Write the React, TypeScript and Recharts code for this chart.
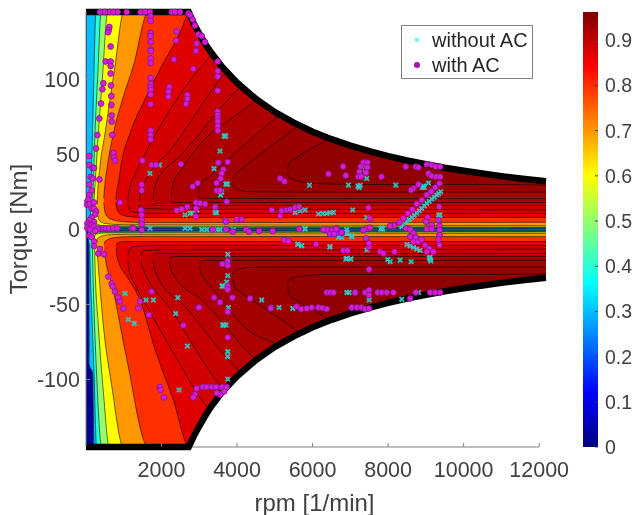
import { Area, Bar, BarChart, ComposedChart, Legend, Line, ReferenceLine, Scatter, XAxis, YAxis } from "recharts";

// rpm, lower torque, upper torque of each contour lobe
const top30 = [[20, 1, 145], [12180, 0.6, 145]];
const top40 = [[115, 6, 9], [123, 4, 20], [150, 2.5, 42], [194, 1.6, 86], [265, 1.3, 145], [12180, 0.9, 145]];
const top50 = [[160, 8, 12], [176, 5, 20], [238, 3, 64], [320, 2.2, 107], [397, 1.9, 145], [12180, 1.3, 145]];
const top60 = [[195, 10, 14], [212, 6, 20], [327, 3.2, 64], [440, 2.6, 103], [575, 2.4, 145], [12180, 1.7, 145]];
const top70 = [[295, 14, 17], [300, 11, 20], [371, 5.5, 42], [503, 4, 64], [768, 3.4, 109], [1000, 3.2, 145], [12180, 2.6, 145]];
const top80 = [[470, 18, 21], [500, 12, 30], [565, 8.5, 42], [724, 6.3, 64], [971, 5.2, 87], [1254, 4.8, 109], [1650, 4.6, 145], [12180, 4.8, 145]];
const top87 = [[790, 18, 20], [805, 15, 24], [850, 12, 30], [950, 9.8, 46], [1165, 8.5, 64], [1563, 8, 87], [2004, 8, 109], [2490, 8, 131], [2750, 8, 145], [12180, 8, 145]];
const top88 = [[1110, 17, 19], [1125, 14.5, 24], [1170, 12.5, 29], [1300, 11.3, 37], [1474, 11, 46], [2225, 10.7, 80], [3300, 10.7, 116], [3800, 10.7, 130], [4700, 10.7, 145], [12180, 10.7, 145]];
const top89 = [[1420, 16.5, 19], [1435, 15, 23], [1500, 14.2, 28], [1700, 13.7, 38], [2200, 13.5, 52], [3700, 13.5, 105], [4500, 13.5, 125], [5800, 13.5, 145], [12180, 13, 145]];
const top90 = [[1775, 17.5, 20], [1790, 16.6, 24], [1860, 16, 31], [2050, 16, 39], [2400, 16, 47], [4035, 16, 94], [5500, 16, 125], [6800, 16, 145], [12180, 16, 145]];
const top91 = [[2260, 19.5, 22], [2275, 18.6, 27], [2340, 18, 33], [2500, 18, 39], [2755, 18, 48.6], [4433, 18, 85], [6000, 18, 120], [7500, 18, 145], [12180, 18, 145]];
const top92 = [[2970, 22.5, 24.5], [2990, 21.5, 28], [3060, 20.8, 31], [3250, 20.6, 35], [3638, 20.6, 44], [5007, 20.6, 74], [7000, 20.6, 110], [9000, 20.6, 145], [12180, 20.6, 145]];
const top93 = [[3890, 31.5, 34], [3905, 29.5, 36], [3960, 27.5, 37.5], [4100, 26, 40], [4400, 25.2, 46], [5536, 25, 67.5], [8000, 25, 110], [10000, 25, 145], [12180, 25, 145]];
const top94 = [[5340, 38, 40], [5355, 36, 42], [5400, 34.5, 45], [5550, 32.8, 47.5], [5757, 31.5, 51], [6287, 30.5, 58.6], [7500, 30, 90], [9000, 30, 125], [10000, 30, 145], [12180, 29.6, 145]];

const bot30 = [[60, -6, -2], [75, -19, -1.2], [85, -90, -1], [176, -96, -1], [212, -145, -1], [12180, -145, -0.6]];
const bot40 = [[100, -9, -3], [106, -19, -2], [150, -52, -1.5], [212, -95, -1.3], [282, -145, -1.2], [12180, -145, -0.9]];
const bot50 = [[170, -10, -4], [176, -19, -3], [212, -52, -2.2], [282, -97, -1.9], [415, -145, -1.8], [12180, -145, -1.3]];
const bot60 = [[230, -12, -5], [238, -24, -3.5], [327, -64, -2.7], [459, -108, -2.4], [618, -145, -2.3], [12180, -145, -1.7]];
const bot70 = [[290, -14, -9], [300, -17, -6], [459, -64, -4], [680, -104, -3.4], [990, -145, -3.2], [12180, -145, -2.6]];
const bot80 = [[480, -14, -10], [503, -18, -8], [724, -41, -5.5], [1077, -86, -4.8], [1650, -145, -4.6], [12180, -145, -4.8]];
const bot87 = [[800, -12, -10.5], [815, -17, -9.5], [870, -22, -8.5], [1100, -32, -8], [1430, -47, -8], [1828, -80, -8], [2305, -113, -8], [2737, -145, -8], [12180, -145, -8]];
const bot88 = [[1110, -21, -17.5], [1125, -25, -15], [1170, -30, -12.5], [1300, -37, -11.3], [1784, -59, -10.7], [2490, -90, -10.7], [3152, -117, -10.7], [3800, -133, -10.7], [4600, -145, -10.7], [12180, -145, -10.7]];
const bot89 = [[1465, -20, -17], [1480, -24, -15], [1560, -29, -14], [2225, -52.6, -13.5], [3461, -101, -13.5], [4200, -122, -13.5], [5500, -145, -13.5], [12180, -145, -13]];
const bot90 = [[1775, -20, -17.5], [1790, -24, -16.5], [1870, -30, -15.8], [2666, -52.6, -16], [3814, -88, -16], [5200, -120, -16], [6500, -145, -16], [12180, -145, -16]];
const bot91 = [[2215, -21.5, -19.5], [2232, -25, -18.6], [2310, -30, -18], [3108, -48, -18], [4256, -81, -18], [6000, -118, -18], [7500, -145, -18], [12180, -145, -18]];
const bot92 = [[3010, -25, -22.5], [3030, -28, -21.5], [3110, -32, -20.7], [3400, -41, -20.6], [4344, -68, -20.6], [5000, -76, -20.6], [7000, -110, -20.6], [9000, -145, -20.6], [12180, -145, -20.6]];
const bot93 = [[3890, -33, -30.5], [3905, -36, -29], [3960, -39.5, -27.5], [4100, -42, -26], [4400, -47, -25.2], [5500, -66, -25], [8000, -110, -25], [10000, -145, -25], [12180, -145, -25]];
const bot94 = [[5340, -38, -36], [5355, -41, -34.5], [5400, -44, -33], [5550, -47, -31.8], [5757, -50, -31], [6287, -58, -30], [7500, -88, -30], [9000, -120, -30], [10000, -145, -30], [12180, -145, -29.6]];

const baseBand = [[0, -145, 145], [12180, -145, 145]];
const centerBand = [[100, -0.7, 0.7], [12180, -0.7, 0.7]];
const bandOrder = [
  ["0.3", top30, bot30], ["0.4", top40, bot40], ["0.5", top50, bot50], ["0.6", top60, bot60],
  ["0.7", top70, bot70], ["0.8", top80, bot80], ["0.87", top87, bot87], ["0.88", top88, bot88],
  ["0.89", top89, bot89], ["0.9", top90, bot90], ["0.91", top91, bot91], ["0.92", top92, bot92],
  ["0.93", top93, bot93], ["0.94", top94, bot94],
];
const bandColors = {
  "0.3": "#00bfff", "0.4": "#29ffd6", "0.5": "#94ff6b", "0.6": "#ffff00", "0.7": "#ff9700", "0.8": "#ff3000",
  "0.87": "#e00000", "0.88": "#d20000", "0.89": "#c60000", "0.9": "#ba0000", "0.91": "#ae0000",
  "0.92": "#a40000", "0.93": "#9a0000", "0.94": "#900000",
};

// torque limit of the machine
const limitRpm = [0, 2720, 2850, 3000, 3150, 3300, 3600, 4000, 4500, 5000, 5500, 6000, 6500, 7000, 7500, 8000, 8500, 9000, 9500, 10000, 10500, 11000, 11500, 12180];
const limitUpper = [145, 145, 137.5, 130.5, 124, 118.5, 108.5, 97.8, 87, 78.3, 71.2, 65.2, 60.2, 55.9, 52.2, 48.9, 46, 43.5, 41.2, 39.2, 37.3, 35.6, 34, 32.2];
const limitLower = [-145, -145, -138, -131, -124.5, -118.5, -108.5, -97.8, -87, -78.3, -71.2, -65.2, -60.2, -55.9, -52.2, -48.9, -46, -43.5, -41.2, -39.2, -37.3, -35.6, -34, -32.2];
const maskEndRpm = 12260;

const withAc = [
  [371, 145], [503, 145], [636, 145], [724, 145], [839, 145], [1077, 145], [1448, 145], [1563, 145], [1695, 145], [2269, 145], [2357, 145], [2490, 145],
  [2711, 144], [2755, 143], [2825, 140], [2887, 136], [2976, 130], [3064, 129], [3152, 125], [2931, 124], [2914, 119], [3488, 112],
  [1712, 142], [1712, 139], [1712, 131], [1712, 129], [1712, 125], [1712, 120], [1712, 119], [1712, 114], [1712, 111], [1712, 101], [1712, 97], [1712, 95], [1712, 93], [1712, 90], [1712, 83.5], [1712, 66], [1712, 63], [1712, 60],
  [618, 135], [600, 133], [585, 131.5], [653, 122], [521, 112], [653, 112], [653, 109], [653, 104], [459, 97.5], [662, 96], [433, 93.5], [671, 89], [397, 84], [671, 83], [680, 76], [353, 74], [680, 72], [697, 63], [300, 63], [265, 54], [724, 51], [740, 48], [768, 46],
  [88, 49], [88, 43], [176, 41], [212, 41], [123, 35], [176, 34], [353, 33.4], [88, 30], [150, 26], [88, 23], [35, 18.6], [70, 20], [30, 16.4], [106, 17], [150, 14], [212, 18], [212, 14], [265, 12], [238, 10], [150, 8], [100, 6.3], [212, 5], [35, 4], [88, 3], [150, 3], [212, 2], [35, 1],
  [371, 0.8], [459, 0.8], [530, 0.8], [618, 0.8], [724, 0.8], [830, 0.8], [1210, 0.8], [1254, 0.8], [1474, 12.5], [1474, 6.3], [1474, 3.6], [1474, -0.4], [300, 0.5], [238, -1], [106, 0], [88, -4], [150, -5], [212, -8], [212, -11], [327, -16], [371, -13], [477, -16.5],
  [591, -31.4], [680, -36], [706, -38], [768, -41.4], [856, -45.4], [900, -48], [989, -52.6], [1386, -52.6], [1430, -48], [1739, -41.4], [1669, -57], [2578, -64], [1960, -105], [1978, -107], [2066, -112], [2976, -52], [3391, -45.4], [3550, -48.6], [3876, -45.4], [3753, -55], [3753, -72], [3753, -21], [3753, -24], [3611, -23], [3753, -37.7], [3753, -40],
  [2887, -110], [2843, -112], [2931, -106], [3090, -105], [3196, -105], [3329, -105], [3444, -105], [3594, -105], [3726, -105], [3550, -110], [3461, -109], [3655, -108],
  [901, 18], [1474, 30], [1474, 26], [1492, 46], [1739, 43], [1854, 43], [2516, 43.5], [1457, 13], [1474, 9.7], [2402, 12.6], [2534, 13.5], [2684, 15], [2914, 18], [3020, 17.5], [3152, 17], [2914, 14], [2914, 8.6], [2825, 28.6], [2958, 31], [3461, 31], [3461, 26], [3550, 26], [3638, 40], [3594, 37.4], [3567, 34], [3505, 44.6], [3753, 45], [3726, 18.6], [3435, 15], [3682, 6.3], [3991, 6.8], [4124, 6.8],
  [3488, 105.7], [3488, 102], [3488, 92.6], [3488, 78.6], [3488, 76.3], [3488, 74], [3488, 72], [3488, 69], [3488, 66], [2402, 132], [2384, 126], [2331, 113.4], [2843, 107], [2207, 95], [2181, 92], [2181, 88.6], [2684, 89.7], [2684, 87], [2649, 83.7],
  [5139, 34], [5254, 32], [6420, 37], [6808, 42], [6879, 36], [5139, 9], [4918, 13], [5183, 12.6], [5316, 13], [5404, 13.4], [5536, 14.6], [5642, 15.2], [3417, 15],
  [3355, 0], [3709, 0], [3885, -1.4], [4238, 0], [4318, -1.4], [4583, -1], [4945, -1], [5651, 0.3], [6331, -0.3], [6393, 0], [6508, -2.5], [6570, 0], [6640, 0.8], [6773, -2.5], [6623, -2.5], [3709, 5.2], [5245, -7], [5360, -7.7], [6093, -9.7],
  [4344, -46], [4901, -52], [5581, -51.4], [5695, -53], [5846, -52.6], [5978, -52], [6155, -52], [6260, -52.3], [6375, -53], [2993, -52], [6817, -14], [6923, -14], [6375, -42], [6464, -42], [6552, -42], [7126, -42], [7038, -52], [7170, -52],
  [7346, 44.7], [7452, 44.7], [7276, 41.9], [7452, 41.4], [7240, 38.5], [7417, 37.9], [7214, 35.2], [7284, 35.2], [7823, 35.2], [8468, 41.9], [8732, 41.9], [8803, 41.4], [9024, 43.4], [9156, 43], [9262, 41.9], [9377, 41.9], [9068, 37.4], [9156, 35.6], [9271, 35.2], [9377, 35.2],
  [8803, 30], [8671, 27.4], [8609, 26.3], [9360, 30.7], [9245, 28], [9139, 25.2], [9024, 23], [8891, 19.6], [8759, 17], [8644, 13.4], [8520, 10.8], [8406, 7.4], [8300, 4.7], [8159, 2.5], [8053, 2.3],
  [9350, 15.2], [9042, 8], [9006, 5.2], [9156, 3], [9333, 6.3], [9360, 2.5], [9360, -0.4], [9360, -3.7], [9333, -6.6], [9360, -10.4], [9024, 0.3], [9156, 0.3],
  [8476, 0.7], [8583, 0], [8671, -2.6], [8583, -4.8], [8732, -5.2], [8671, -8.1], [8803, -8.1], [8891, -6.6], [8980, -10.4], [9086, -12.6], [9201, -14.8], [9024, -14.8],
  [7479, 14.5], [7523, 7.4], [7434, 0.7], [7523, 1.2], [7346, -0.4], [7417, -5.9], [7497, -11.5], [7497, -9.2], [7788, -14.8], [7876, -16], [8167, -14.8], [7497, -26.6],
  [6287, 0], [6507, -0.4], [6622, 0.3], [6463, -3], [6569, -3], [6772, -2],
  [7126, -42], [7390, -42], [7497, -40.4], [7497, -43.7], [7726, -42], [7832, -42], [7964, -42], [8141, -42], [8732, -42], [9112, -42], [9245, -42], [9377, -42],
  [4891, -52.6], [7037, -52], [7285, -52], [7390, -53], [7497, -52.6], [8582, -46],
];

const withoutAc = [
  [5916, 29.6], [6949, 29.6], [8203, 29.6], [7200, 29], [7231, 28], [7260, 29.5], [8910, 28], [8935, 29], [8960, 28], [9068, 31], [7390, 37.9], [7434, 34], [7390, 41.9],
  [8362, 1.9], [8428, 3.5], [8494, 5.2], [8560, 6.6], [8627, 8], [8693, 9.5], [8759, 11], [8825, 12.5], [8891, 14], [8957, 15.7], [9024, 17.4], [9090, 18.8], [9156, 20.3], [9222, 21.6], [9289, 23], [9342, 24], [9395, 25.2],
  [8494, -10], [8582, -11], [8671, -12], [8759, -13], [8847, -14], [9090, -19], [9112, -20], [9135, -21], [9112, -18.5],
  [9333, 9.6], [9375, 9.6], [7434, 8], [7810, 0.3], [7832, 1], [7855, 0.3], [6905, 0], [5801, 0.3], [7037, -4.8], [6684, -5.2], [6772, -5.2], [6463, -11.5], [5607, -9.7], [5713, -10.8], [7434, -13.7],
  [6905, -19.2], [7011, -19.7], [7991, -20], [8053, -21.5], [8318, -20.4], [8609, -21.5], [4653, -47], [5112, -52], [5474, -52.6], [6905, -42], [6967, -42], [7497, -47], [8362, -46.6], [8803, -42],
  [7064, 13], [5801, 13], [5536, 11.4], [5669, 12.3], [6154, 10.3], [6269, 10.7], [6375, 10.7], [6463, 11.2], [6552, 11.4],
  [3660, 62.3], [3682, 62.3], [3704, 62.3], [3550, 52.3], [3391, 40.6], [3704, 30.3], [3726, 30.3], [3748, 30.3], [3594, 25], [3567, 23], [3461, 11.2], [2932, 13], [2799, 11],
  [3064, 0], [3197, 0], [3461, 0], [3550, 0], [3903, 0], [5801, 0.8], [6817, -2], [6905, -2], [7037, -4], [2622, 0.8], [2755, 0.8], [1695, 0.8],
  [3753, -16.6], [3753, -30.8], [3600, -37.7], [3620, -37.7], [3640, -37.7], [3726, -35], [3770, -52], [3620, -63.7], [3638, -63.7], [3660, -63.7], [3709, -63.7], [3753, -81.4], [3753, -84.8], [3753, -99.7],
  [5607, -10], [5713, -10.8], [6455, -11.7], [6879, -19.7], [7011, -19.7],
  [1033, -42.6], [1589, -47], [1783, -47], [2428, -45.4], [2375, -56], [1121, -60], [1280, -62.6], [2684, -77.7], [2463, -107], [3196, -105],
  [1695, 37.4], [1942, 43], [2622, 9.7], [2755, 10.8], [3417, 11.5], [2931, 13],
];

const xTicks = [2000, 4000, 6000, 8000, 10000, 12000];
const yTicks = [-100, -50, 0, 50, 100];
const colorbarTicks = [0, 0.1, 0.2, 0.3, 0.4, 0.5, 0.6, 0.7, 0.8, 0.9];
const colorbarMax = 0.9625;
const jetStops = [
  [0, "#000080"], [0.125, "#0000ff"], [0.375, "#00ffff"], [0.625, "#ffff00"], [0.875, "#ff0000"], [1, "#800000"],
];
const legendItems = ["without AC", "with AC"];

const bandRows = (rows: number[][]) => rows.map(([rpm, low, high]) => ({ rpm, range: [low, high] }));
const pointRows = (rows: number[][]) => rows.map(([rpm, t]) => ({ rpm, t }));
const limitLine = (values: number[]) => limitRpm.map((rpm, i) => ({ rpm, t: values[i] }));
// white cover outside the torque limit, runs a bit past the last rpm so no band edge shows
const maskRows = (values: number[], edge: number) => {
  const rows = limitRpm.slice(1).map((rpm, i) => {
    const t = values[i + 1];
    return { rpm, range: edge > 0 ? [t, edge] : [edge, t] };
  });
  return [...rows, { rpm: maskEndRpm, range: rows[rows.length - 1].range }];
};

const textColor = "#404040";

function WithAcDot({ cx, cy }: any) {
  return <circle cx={cx} cy={cy} r={2.9} fill="#d91ad9" stroke="#7a1a80" strokeWidth={0.8} />;
}

function WithoutAcCross({ cx, cy }: any) {
  const d = `M${cx - 2.2},${cy - 2.2}L${cx + 2.2},${cy + 2.2}M${cx - 2.2},${cy + 2.2}L${cx + 2.2},${cy - 2.2}`;
  return (
    <g fill="none">
      <path d={d} stroke="#22e6e6" strokeWidth={1.7} />
      <path d={d} stroke="#5a8a86" strokeWidth={0.7} />
    </g>
  );
}

function LegendBox() {
  return (
    <div
      style={{
        width: 132,
        height: 54,
        boxSizing: "border-box",
        border: "1px solid #808080",
        background: "#fff",
        fontFamily: "Liberation Sans",
        fontSize: 20,
        color: "#262626",
        position: "relative",
      }}
    >
      {legendItems.map((name, i) => (
        <div key={name} style={{ position: "absolute", left: 30, top: 2 + i * 25, lineHeight: "24px", whiteSpace: "nowrap" }}>
          {name}
        </div>
      ))}
      <svg width={30} height={52} style={{ position: "absolute", left: 0, top: 0 }}>
        <circle cx={15} cy={14} r={2.4} fill="#7ff5f5" />
        <circle cx={15} cy={39} r={2.8} fill="#a812b0" stroke="#8a1095" strokeWidth={0.6} />
      </svg>
    </div>
  );
}

export default function App() {
  return (
    <div style={{ position: "absolute", left: 0, top: 0, width: 635, height: 515, background: "#fff", filter: "blur(0.45px)" }}>
      <ComposedChart width={635} height={515} margin={{ top: 12, right: 86, bottom: 0, left: 0 }}>
        <XAxis
          dataKey="rpm"
          type="number"
          domain={[0, 12260]}
          ticks={xTicks}
          height={68}
          axisLine={false}
          tickSize={-4}
          tickMargin={19}
          stroke="#808080"
          tick={{ fill: textColor, fontSize: 21.5, fontFamily: "Liberation Sans" }}
          interval={0}
          label={{ value: "rpm [1/min]", position: "insideBottom", offset: 4, dx: -3, fill: textColor, fontSize: 24, fontFamily: "Liberation Sans" }}
        />
        <YAxis
          type="number"
          domain={[-145, 145]}
          ticks={yTicks}
          width={86}
          tickSize={-4}
          tickMargin={10}
          stroke="#808080"
          tick={{ fill: textColor, fontSize: 21.5, fontFamily: "Liberation Sans" }}
          interval={0}
          label={{ value: "Torque [Nm]", angle: -90, position: "insideLeft", offset: 18, dy: 65, fill: textColor, fontSize: 24, fontFamily: "Liberation Sans" }}
        />
        <Area data={bandRows(baseBand)} dataKey="range" type="linear" fill="#000090" fillOpacity={1} stroke="none" dot={false} activeDot={false} isAnimationActive={false} />
        {bandOrder.flatMap(([level, top, bot]: any) =>
          [top, bot].map((rows, i) => (
            <Area
              key={`${level}-${i}`}
              data={bandRows(rows)}
              dataKey="range"
              type="monotoneX"
              fill={bandColors[level]}
              fillOpacity={1}
              stroke="#000"
              strokeOpacity={0.8}
              strokeWidth={0.7}
              dot={false}
              activeDot={false}
              isAnimationActive={false}
            />
          ))
        )}
        <Area data={bandRows(centerBand)} dataKey="range" type="linear" fill="#0f5a70" fillOpacity={1} stroke="none" dot={false} activeDot={false} isAnimationActive={false} />
        <Area data={maskRows(limitUpper, 145)} dataKey="range" type="linear" fill="#fff" fillOpacity={1} stroke="#fff" strokeWidth={2} dot={false} activeDot={false} isAnimationActive={false} />
        <Area data={maskRows(limitLower, -145)} dataKey="range" type="linear" fill="#fff" fillOpacity={1} stroke="#fff" strokeWidth={2} dot={false} activeDot={false} isAnimationActive={false} />
        <ReferenceLine segment={[{ x: 0, y: -145 }, { x: 12000, y: -145 }]} stroke="#808080" />
        <Line data={limitLine(limitUpper)} dataKey="t" type="linear" stroke="#000" strokeWidth={6.5} dot={false} activeDot={false} isAnimationActive={false} />
        <Line data={limitLine(limitLower)} dataKey="t" type="linear" stroke="#000" strokeWidth={6.5} dot={false} activeDot={false} isAnimationActive={false} />
        <Scatter data={pointRows(withoutAc)} dataKey="t" shape={WithoutAcCross} isAnimationActive={false} />
        <Scatter data={pointRows(withAc)} dataKey="t" shape={WithAcDot} isAnimationActive={false} />
        <Legend
          align="center"
          verticalAlign="middle"
          content={LegendBox}
          wrapperStyle={{ left: 401, top: 25, width: 132, height: 54, bottom: "auto", right: "auto" }}
        />
      </ComposedChart>
      <div style={{ position: "absolute", left: 570, top: 0 }}>
        <BarChart
          width={65}
          height={515}
          data={[{ name: "efficiency", value: colorbarMax }]}
          barCategoryGap={0}
          margin={{ top: 12, right: 0, bottom: 68, left: 13 }}
        >
          <defs>
            <linearGradient id="jet" x1="0" y1="1" x2="0" y2="0">
              {jetStops.map(([offset, color]) => (
                <stop key={offset} offset={offset} stopColor={color as string} />
              ))}
            </linearGradient>
          </defs>
          <XAxis dataKey="name" hide />
          <YAxis
            orientation="right"
            type="number"
            domain={[0, colorbarMax]}
            ticks={colorbarTicks}
            width={37}
            axisLine={false}
            tickSize={-3}
            tickMargin={10}
            stroke="#404040"
            interval={0}
            tick={{ fill: textColor, fontSize: 19.5, fontFamily: "Liberation Sans" }}
          />
          <Bar dataKey="value" fill="url(#jet)" isAnimationActive={false} />
        </BarChart>
      </div>
    </div>
  );
}
